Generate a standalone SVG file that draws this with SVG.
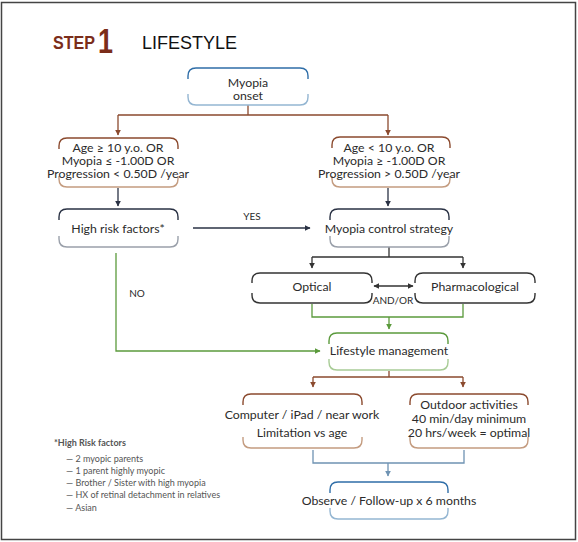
<svg xmlns="http://www.w3.org/2000/svg" width="578" height="542" viewBox="0 0 578 542">
<style>
  .t{font-family:Lato,"Open Sans","Liberation Sans",sans-serif;font-size:12.3px;fill:#2b2b2b;text-anchor:middle}
  .lab{font-family:Lato,"Open Sans","Liberation Sans",sans-serif;font-size:10px;fill:#2b2b2b;text-anchor:middle}
  .fn{font-family:Lato,"Open Sans","Liberation Sans",sans-serif;font-size:9px;fill:#555}
  .b{fill:none;stroke-width:1.4}
  .c{fill:none;stroke-width:1.3}
  .brT{stroke:#8b4a2e}.brB{stroke:#c49c80}
  .blT{stroke:#2f6ea8}.blB{stroke:#94b6d2}
  .nvT{stroke:#2a3244}.nvB{stroke:#9aa0aa}
  .dk{stroke:#333}
  .grT{stroke:#5b9a3c}.grB{stroke:#a8cc96}
</style>
<defs>
  <marker id="aBr" viewBox="0 0 10 10" refX="9" refY="5" markerWidth="6" markerHeight="6" markerUnits="userSpaceOnUse" orient="auto"><path d="M0,0L10,5L0,10z" fill="#8b4a2e"/></marker>
  <marker id="aNv" viewBox="0 0 10 10" refX="9" refY="5" markerWidth="6" markerHeight="6" markerUnits="userSpaceOnUse" orient="auto"><path d="M0,0L10,5L0,10z" fill="#2a3244"/></marker>
  <marker id="aDk" viewBox="0 0 10 10" refX="9" refY="5" markerWidth="6" markerHeight="6" markerUnits="userSpaceOnUse" orient="auto-start-reverse"><path d="M0,0L10,5L0,10z" fill="#333"/></marker>
  <marker id="aGr" viewBox="0 0 10 10" refX="9" refY="5" markerWidth="6" markerHeight="6" markerUnits="userSpaceOnUse" orient="auto"><path d="M0,0L10,5L0,10z" fill="#5b9a3c"/></marker>
  <marker id="aBl" viewBox="0 0 10 10" refX="9" refY="5" markerWidth="6" markerHeight="6" markerUnits="userSpaceOnUse" orient="auto"><path d="M0,0L10,5L0,10z" fill="#6f93b3"/></marker>
</defs>
<rect x="0" y="0" width="578" height="542" fill="#fff"/>
<rect x="1.5" y="2.5" width="574" height="537" fill="none" stroke="#444" stroke-width="1.5"/>

<g id="title">
  <text x="53" y="49" font-family="'Liberation Sans',Arial,sans-serif" font-size="18" font-weight="bold" fill="#7b2d1a" textLength="42" lengthAdjust="spacingAndGlyphs">STEP</text>
  <text x="98" y="53" font-family="'Liberation Sans',Arial,sans-serif" font-size="35" font-weight="bold" fill="#7b2d1a" textLength="15" lengthAdjust="spacingAndGlyphs">1</text>
  <text x="142" y="49" font-family="'Liberation Sans',Arial,sans-serif" font-size="18" fill="#111">LIFESTYLE</text>
</g>

<g id="connectors">
  <path class="c brT" d="M248,105V115M118,115H388"/>
  <path class="c brT" d="M118,115V135" marker-end="url(#aBr)"/>
  <path class="c brT" d="M388,115V135" marker-end="url(#aBr)"/>
  <path class="c nvT" d="M118,188V206" marker-end="url(#aNv)"/>
  <path class="c nvT" d="M388,188V206" marker-end="url(#aNv)"/>
  <path class="c nvT" d="M193,228H310" marker-end="url(#aNv)"/>
  <path class="c dk" d="M389,247V257M312,257H463"/>
  <path class="c dk" d="M312,257V268" marker-end="url(#aDk)"/>
  <path class="c dk" d="M463,257V268" marker-end="url(#aDk)"/>
  <path class="c dk" d="M374,286H413" marker-start="url(#aDk)" marker-end="url(#aDk)"/>
  <path class="c grT" d="M312,304V317H463V304"/>
  <path class="c grT" d="M389,317V329" marker-end="url(#aGr)"/>
  <path class="c grT" d="M116,253V351H320" marker-end="url(#aGr)"/>
  <path class="c brT" d="M389,371V377M313,377H463"/>
  <path class="c brT" d="M313,377V387" marker-end="url(#aBr)"/>
  <path class="c brT" d="M463,377V387" marker-end="url(#aBr)"/>
  <path class="c" stroke="#6f93b3" d="M313,450V463H464V450"/>
  <path class="c" stroke="#6f93b3" d="M388,463V476" marker-end="url(#aBl)"/>
  <text class="lab" x="252" y="220">YES</text>
  <text class="lab" x="137" y="297">NO</text>
  <text class="lab" x="393" y="304" font-size="8.5">AND/OR</text>
</g>

<g id="n-onset">
  <path class="b blT" d="M188,79V76Q188,68 196,68H300Q308,68 308,76V79"/>
  <path class="b blB" d="M188,94V97Q188,105 196,105H300Q308,105 308,97V94"/>
  <text class="t" x="248" y="87">Myopia</text>
  <text class="t" x="248" y="100">onset</text>
</g>

<g id="n-left-criteria">
  <path class="b brT" d="M59,149V146Q59,138 67,138H170Q178,138 178,146V149"/>
  <path class="b brB" d="M59,176V179Q59,187 67,187H170Q178,187 178,179V176"/>
  <text class="t" x="118" y="152">Age ≥ 10 y.o. OR</text>
  <text class="t" x="118" y="165">Myopia ≤ -1.00D  OR</text>
  <text class="t" x="118" y="178">Progression &lt; 0.50D /year</text>
</g>

<g id="n-high-risk">
  <path class="b nvT" d="M59,220V217Q59,209 67,209H170Q178,209 178,217V220"/>
  <path class="b nvB" d="M59,236V239Q59,247 67,247H170Q178,247 178,239V236"/>
  <text class="t" x="118" y="233">High risk factors*</text>
</g>

<g id="n-right-criteria">
  <path class="b brT" d="M332,148V145Q332,137 340,137H442Q450,137 450,145V148"/>
  <path class="b brB" d="M332,176V179Q332,187 340,187H442Q450,187 450,179V176"/>
  <text class="t" x="389" y="152">Age &lt; 10 y.o.  OR</text>
  <text class="t" x="389" y="165">Myopia ≥ -1.00D   OR</text>
  <text class="t" x="389" y="178">Progression &gt; 0.50D /year</text>
</g>

<g id="n-control">
  <path class="b nvT" d="M330,220V217Q330,209 338,209H441Q449,209 449,217V220"/>
  <path class="b nvB" d="M330,236V239Q330,247 338,247H441Q449,247 449,239V236"/>
  <text class="t" x="389" y="233">Myopia control strategy</text>
</g>

<g id="n-optical">
  <path class="b dk" d="M252,283V281Q252,273 260,273H364Q372,273 372,281V283"/>
  <path class="b dk" d="M252,293V295Q252,303 260,303H364Q372,303 372,295V293"/>
  <text class="t" x="312" y="291">Optical</text>
</g>

<g id="n-pharma">
  <path class="b dk" d="M415,283V281Q415,273 423,273H527Q535,273 535,281V283"/>
  <path class="b dk" d="M415,293V295Q415,303 423,303H527Q535,303 535,295V293"/>
  <text class="t" x="475" y="291">Pharmacological</text>
</g>

<g id="n-lifestyle">
  <path class="b grT" d="M329,344V341Q329,333 337,333H440Q448,333 448,341V344"/>
  <path class="b grB" d="M329,359V362Q329,370 337,370H440Q448,370 448,362V359"/>
  <text class="t" x="389" y="355">Lifestyle management</text>
</g>

<g id="n-computer">
  <path class="b brT" d="M243,405V402Q243,394 251,394H354Q362,394 362,402V405"/>
  <path class="b brB" d="M243,437V440Q243,448 251,448H354Q362,448 362,440V437"/>
  <text class="t" x="302" y="419">Computer / iPad / near work</text>
  <text class="t" x="302" y="437">Limitation vs age</text>
</g>

<g id="n-outdoor">
  <path class="b brT" d="M410,405V402Q410,394 418,394H520Q528,394 528,402V405"/>
  <path class="b brB" d="M410,437V440Q410,448 418,448H520Q528,448 528,440V437"/>
  <text class="t" x="469" y="409">Outdoor activities</text>
  <text class="t" x="469" y="423">40 min/day minimum</text>
  <text class="t" x="469" y="437">20 hrs/week = optimal</text>
</g>

<g id="n-observe">
  <path class="b blT" d="M330,493V490Q330,482 338,482H440Q448,482 448,490V493"/>
  <path class="b blB" d="M330,508V511Q330,519 338,519H440Q448,519 448,511V508"/>
  <text class="t" x="389" y="505">Observe / Follow-up x 6 months</text>
</g>

<g id="footnote">
  <text class="fn" x="54" y="446" fill="#333" font-weight="bold">*High Risk factors</text>
  <text class="fn" x="66" y="462">— 2 myopic parents</text>
  <text class="fn" x="66" y="474">— 1 parent highly myopic</text>
  <text class="fn" x="66" y="486">— Brother / Sister with high myopia</text>
  <text class="fn" x="66" y="498">— HX of retinal detachment in relatives</text>
  <text class="fn" x="66" y="511">— Asian</text>
</g>
</svg>
